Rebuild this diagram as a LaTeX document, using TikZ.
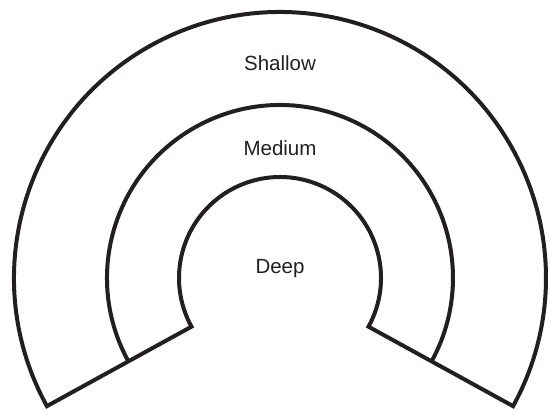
\documentclass[tikz,border=0pt]{standalone}
\usepackage{fontspec}
\setmainfont{Liberation Sans}
\usetikzlibrary{calc}

\definecolor{ink}{HTML}{231F20}

\begin{document}
\begin{tikzpicture}[
  x=1pt, y=1pt,
  zone/.style={draw=ink, line width=4pt, line join=miter},
  lbl/.style={font=\fontsize{20.5}{24}\selectfont, text=ink, inner sep=0pt}
]
  \useasboundingbox (0,0) rectangle (551,412);
  \coordinate (c) at (280,134);

  % outer band, closed by the two radial cuts
  \draw[zone] ([shift={(208.8:266)}]c) arc[start angle=208.8, end angle=-28.8, radius=266]
    -- ([shift={(-28.8:101)}]c) arc[start angle=-28.8, end angle=208.8, radius=101] -- cycle;
  % middle ring
  \draw[zone] ([shift={(208.8:173)}]c) arc[start angle=208.8, end angle=-28.8, radius=173];

  \node[lbl] (shallow) at (280,349) {Shallow};
  \node[lbl] (medium) at (280,264) {Medium};
  \node[lbl] (deep) at (280,143) {Deep};
\end{tikzpicture}
\end{document}
